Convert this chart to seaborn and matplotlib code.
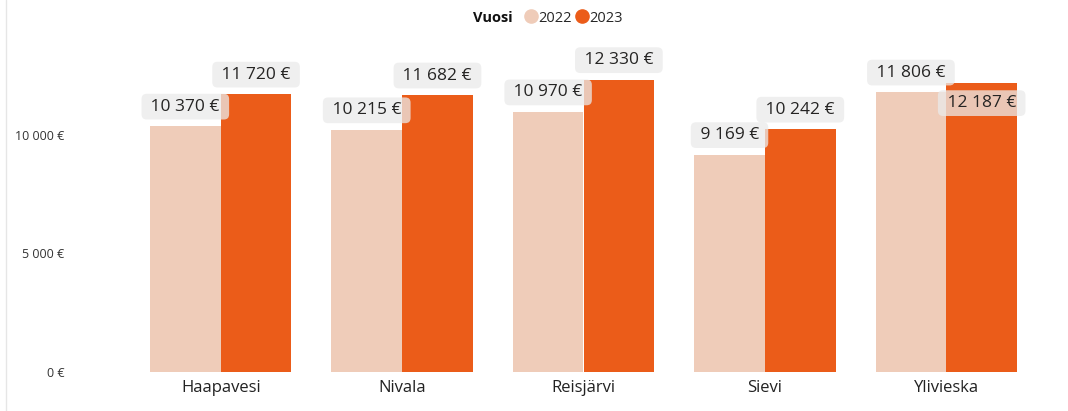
import pandas as pd
import seaborn as sns
import matplotlib.pyplot as plt
from matplotlib.lines import Line2D

# Datos
kunnat = ["Haapavesi", "Nivala", "Reisjärvi", "Sievi", "Ylivieska"]
vuodet = ["2022", "2023"]
arvot_2022 = [10370, 10215, 10970, 9169, 11806]
arvot_2023 = [11720, 11682, 12330, 10242, 12187]
y_ticks = [0, 5000, 10000]
varit = ["#EFCCB9", "#EB5C19"]

df = pd.DataFrame({
    "Kunta": kunnat * 2,
    "Vuosi": ["2022"] * len(kunnat) + ["2023"] * len(kunnat),
    "Arvo": arvot_2022 + arvot_2023,
})

def euro(v):
    return f"{v:,.0f}".replace(",", " ") + " €"

sns.set_style("white")
plt.rcParams["font.family"] = ["Open Sans", "DejaVu Sans"]

fig = plt.figure(figsize=(10.68, 4.11), dpi=100)
ax = fig.add_axes([130 / 1068, 1 - 372 / 411, 907 / 1068, 332 / 411])

sns.barplot(data=df, x="Kunta", y="Arvo", hue="Vuosi", hue_order=vuodet,
            palette=varit, width=0.78, saturation=1, linewidth=0,
            legend=False, ax=ax)

ax.set_ylim(0, 14000)
ax.set_yticks(y_ticks)
ax.set_yticklabels([euro(t) for t in y_ticks], fontsize=9, color="#333333")
ax.tick_params(axis="y", length=0, pad=47)
ax.tick_params(axis="x", length=0, pad=6, labelsize=12, labelcolor="#222222")
ax.set_xlabel("")
ax.set_ylabel("")
for s in ax.spines.values():
    s.set_visible(False)

# Arvolaput
for ci, cont in enumerate(ax.containers):
    for bi, bar in enumerate(cont):
        v = bar.get_height()
        x = bar.get_x() + bar.get_width() / 2
        offset = 14
        # Ylivieska 2023 -lappu menee palkin sisään
        if ci == 1 and kunnat[bi] == "Ylivieska":
            offset = -14.5
        ax.annotate(" " + euro(v) + " ", (x, v), xytext=(0, offset), textcoords="offset points",
                    ha="center", va="center", fontsize=12.5, color="#252423",
                    annotation_clip=False,
                    bbox=dict(boxstyle="round,pad=0.28,rounding_size=0.3",
                              fc="#EAEAEA", ec="none", alpha=0.75))

# Selite
fig.text(513 / 1068, 1 - 18 / 411, "Vuosi", ha="right", va="center",
         fontsize=10.5, fontweight="bold", color="#111111")
handles = [Line2D([], [], marker="o", ls="", markersize=9.5, color=c) for c in varit]
fig.legend(handles, vuodet, loc="center left", bbox_to_anchor=(524 / 1068, 1 - 18 / 411),
           ncol=2, frameon=False, fontsize=10.5, handletextpad=0.0, columnspacing=0.2,
           handlelength=1.0, borderpad=0, borderaxespad=0)

fig.add_artist(Line2D([6 / 1068, 6 / 1068], [0, 1], color="#E6E6E6", lw=1))

fig.savefig("out.png", dpi=100)
